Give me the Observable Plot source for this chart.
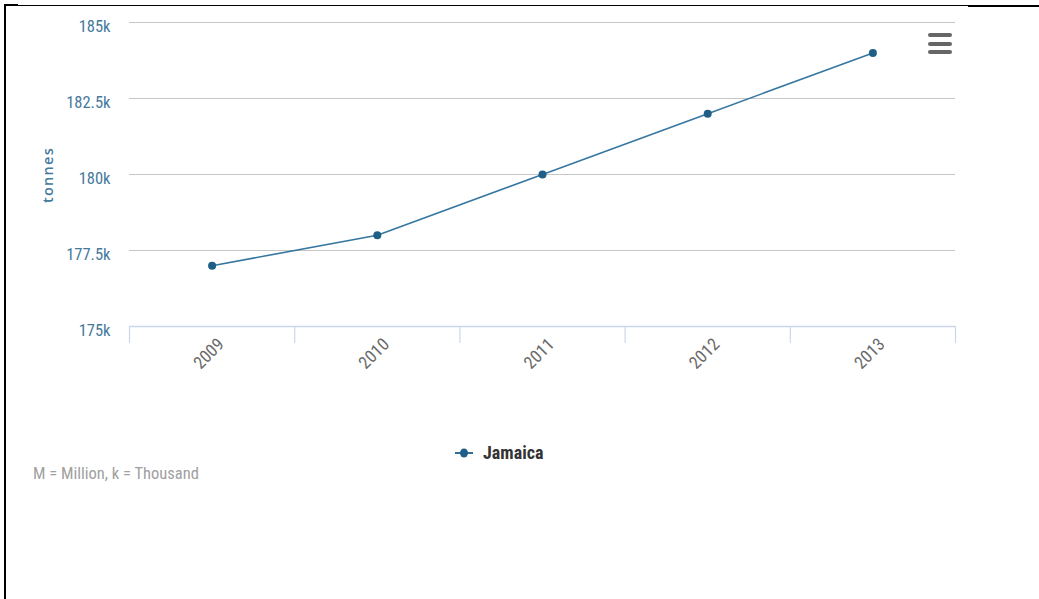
<!DOCTYPE html>
<html>
<head>
<meta charset="utf-8">
<script src="https://cdn.jsdelivr.net/npm/d3@7"></script>
<script src="https://cdn.jsdelivr.net/npm/@observablehq/plot@0.6"></script>
<style>
  html, body { margin: 0; padding: 0; background: #fff; width: 1039px; height: 599px; overflow: hidden; }
  #wrap { position: relative; width: 1039px; height: 599px; }
  #chart { position: absolute; left: 0; top: 0; }
  .narrow { font-family: "Liberation Sans Narrow", "Roboto Condensed", Roboto, sans-serif; }
  #ytitle { position: absolute; left: 47px; top: 175px; transform: translate(-50%, -50%) rotate(-90deg);
            font-family: "Open Sans", Roboto, sans-serif; font-size: 14.5px; font-weight: 600; color: #467a9c; letter-spacing: 1.3px; white-space: nowrap; }
  #legend { position: absolute; left: 454px; top: 442px; display: flex; align-items: center; gap: 9px;
            font-size: 18px; font-weight: bold; color: #333; }
  #caption { position: absolute; left: 33px; top: 464px; font-size: 16.5px; color: #a0a0a0; }
  #menu { position: absolute; left: 928px; top: 33px; width: 24px; }
  #menu div { height: 4px; background: #666; border-radius: 2px; margin-bottom: 4.5px; }
  .bl { position: absolute; background: #000; }
</style>
</head>
<body>
<div id="wrap">
  <div id="chart"></div>
  <div id="ytitle">tonnes</div>
  <div id="legend" class="narrow"><svg width="20" height="12"><line x1="1" y1="6" x2="19" y2="6" stroke="#2f7099" stroke-width="2"/><ellipse cx="10" cy="6" rx="4" ry="4.5" fill="#1e5f87"/></svg><span id="legendName"></span></div>
  <div id="caption" class="narrow">M = Million, k = Thousand</div>
  <div id="menu"><div></div><div></div><div></div></div>
  <div class="bl" style="left:4px;top:4px;width:2px;height:595px"></div>
  <div class="bl" style="left:4px;top:4px;width:14px;height:2px"></div>
  <div class="bl" style="left:18px;top:5px;width:950px;height:1px"></div>
  <div class="bl" style="left:968px;top:5px;width:71px;height:2px"></div>
</div>
<script>
const seriesName = "Jamaica";
const years = [2009, 2010, 2011, 2012, 2013];
const values = [177000, 178000, 180000, 182000, 184000];
const yTicks = [175000, 177500, 180000, 182500, 185000];
const yUnit = "tonnes";

const data = years.map((y, i) => ({year: y, value: values[i]}));
const boundaries = [years[0] - 0.5, ...years.map(y => y + 0.5)];
const gridTicks = yTicks.slice(1);

document.getElementById("legendName").textContent = seriesName;
document.getElementById("ytitle").textContent = yUnit;

const chart = Plot.plot({
  width: 1039,
  height: 400,
  marginLeft: 129,
  marginRight: 84,
  marginTop: 22,
  marginBottom: 74,
  style: { fontFamily: '"Liberation Sans Narrow", "Roboto Condensed", Roboto, sans-serif', background: "transparent" },
  x: { domain: [boundaries[0], boundaries[boundaries.length - 1]] },
  y: { domain: [yTicks[0], yTicks[yTicks.length - 1]] },
  marks: [
    Plot.ruleY(gridTicks, { stroke: "#c6c6c6", strokeWidth: 1.2 }),
    Plot.ruleY([yTicks[0]], { stroke: "#ccd6eb", strokeWidth: 1.5 }),
    Plot.axisX({ ticks: boundaries, tickSize: 17, tickFormat: () => "", stroke: "#ccd6eb", strokeWidth: 1.2, strokeOpacity: 1, label: null }),
    Plot.axisX({ ticks: years, tickSize: 0, tickFormat: d => String(d), tickRotate: -45, tickPadding: 15, dx: 9, fill: "#6a6a6a", fontSize: 17.5, label: null }),
    Plot.axisY({ ticks: yTicks, tickSize: 0, tickPadding: 19, tickFormat: d => (d / 1000) + "k", fill: "#467a9c", fontSize: 16.5, dy: 4, label: null }),
    Plot.line(data, { x: "year", y: "value", stroke: "#3577a0", strokeWidth: 1.6 }),
    Plot.dot(data, { x: "year", y: "value", r: 4, fill: "#1e5f87", stroke: "none" })
  ]
});
document.getElementById("chart").appendChild(chart);
</script>
</body>
</html>
